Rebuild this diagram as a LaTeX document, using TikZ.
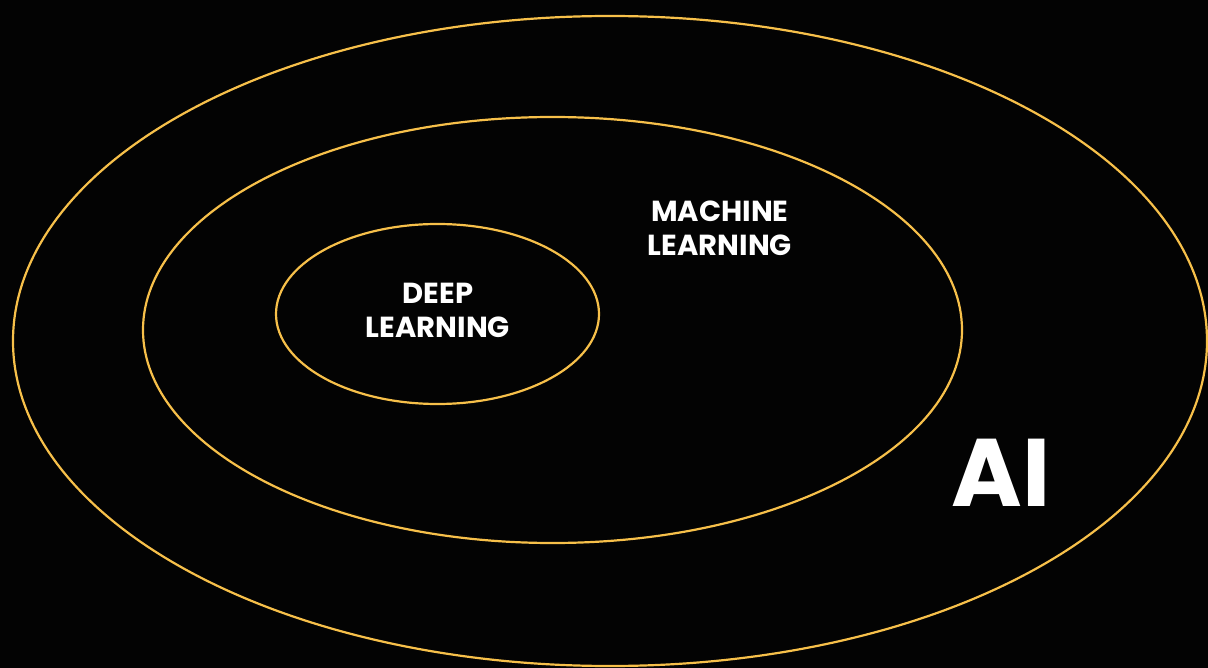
\documentclass[tikz,border=0pt]{standalone}
\usepackage{fontspec}
\setmainfont{Poppins}
\definecolor{ring}{HTML}{F7C04A}
\definecolor{bg}{HTML}{030303}
\begin{document}
\begin{tikzpicture}[x=1pt,y=-1pt,
  ringline/.style={draw=ring,line width=2.2pt},
  lbl/.style={text=white,font=\bfseries\fontsize{29}{34}\selectfont,align=center,inner sep=0pt}]
\fill[bg] (0,0) rectangle (1208,668);
\useasboundingbox (0,0) rectangle (1208,668);
\draw[ringline] (610,341) ellipse [x radius=597, y radius=325];
\draw[ringline] (552.5,330) ellipse [x radius=409.5, y radius=213];
\draw[ringline] (437.5,314) ellipse [x radius=161.5, y radius=90];
\node[lbl] (ml) at (720,228) {MACHINE\\LEARNING};
\node[lbl] (dl) at (438,310) {DEEP\\LEARNING};
\node[text=white,font=\bfseries\fontsize{96}{96}\selectfont,inner sep=0pt,anchor=base] (ai) at (1001,506) {AI};
\end{tikzpicture}
\end{document}
